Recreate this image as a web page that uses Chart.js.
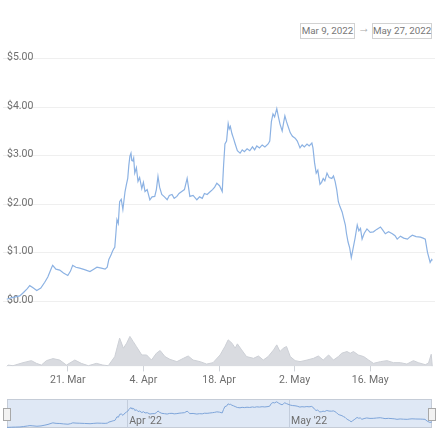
<!DOCTYPE html>
<html>
<head>
<meta charset="utf-8">
<script src="https://cdn.jsdelivr.net/npm/chart.js@4.4.1/dist/chart.umd.min.js"></script>
<style>
  body { margin: 0; background: #fff; font-family: Roboto, sans-serif; }
  #wrap { position: relative; width: 440px; height: 440px; overflow: hidden; }
  canvas { position: absolute; left: 0; }
  .range { position: absolute; top: 23px; height: 14px; line-height: 14px; border: 1px solid #d2d2d2;
           font-size: 9.8px; color: #777; text-align: center; box-sizing: content-box; white-space: nowrap; }
  .arrow { position: absolute; top: 21px; left: 358px; font-size: 12px; color: #aaa; }
</style>
</head>
<body>
<div id="wrap">
  <div class="range" style="left:300px;width:53px;">Mar 9, 2022</div>
  <div class="arrow">→</div>
  <div class="range" style="left:372px;width:58px;">May 27, 2022</div>
  <canvas id="main" width="440" height="390" style="top:0"></canvas>
  <canvas id="nav" width="440" height="50" style="top:390px"></canvas>
</div>
<script>
// days since Mar 9, 2022
const priceDays = [0.7, 1.5, 2.3, 3.1, 3.8, 4.5, 4.95, 5.5, 6.25, 7.0, 7.73, 8.3, 9.03, 9.2, 9.8, 10.5, 11.2, 12.0, 12.5, 12.9,
  13.5, 14.2, 15.1, 16.1, 16.8, 17.4, 18.2, 18.9, 19.3, 19.6, 20.0, 20.2, 20.5, 20.7, 20.9, 21.1, 21.35, 21.6, 21.9, 22.2,
  22.6, 22.85, 23.1, 23.3, 23.5, 23.7, 23.85, 24.05, 24.2, 24.4, 24.7, 25.0, 25.3, 25.7, 26.0, 26.3, 26.7, 27.2, 27.6, 28.1,
  28.4, 28.7, 29.0, 29.4, 29.9, 30.4, 30.8, 31.3, 31.7, 32.2, 32.6, 33.1, 33.6, 34.1, 34.35, 34.6, 35.2, 35.9, 36.4, 36.9,
  37.3, 37.8, 38.3, 38.8, 39.2, 39.6, 40.1, 40.6, 40.85, 41.1, 41.4, 41.7, 41.9, 42.1, 42.4, 42.7, 43.0, 43.4, 43.9, 44.3,
  44.7, 45.2, 45.7, 46.2, 46.6, 47.0, 47.5, 48.0, 48.5, 49.1, 49.4, 49.7, 50.0, 50.3, 50.7, 51.0, 51.3, 51.7, 52.0, 52.2,
  52.5, 52.8, 53.2, 53.6, 54.1, 54.5, 55.0, 55.4, 55.8, 56.3, 56.7, 57.2, 57.4, 57.7, 58.0, 58.3, 58.7, 59.0, 59.3, 59.6,
  60.0, 60.4, 60.9, 61.2, 61.5, 61.8, 62.1, 62.4, 62.8, 63.1, 63.4, 63.6, 63.9, 64.2, 64.5, 64.8, 65.2, 65.6, 65.9, 66.2,
  66.5, 66.9, 67.4, 68.0, 68.6, 69.2, 69.9, 70.3, 70.8, 71.4, 72.1, 72.6, 73.0, 73.6, 74.2, 74.9, 75.4, 75.8, 76.5, 77.3,
  77.8, 78.2, 78.6, 79.1, 79.4, 79.5];
const priceValues = [0.04, 0.07, 0.09, 0.11, 0.18, 0.26, 0.32, 0.28, 0.22, 0.27, 0.39, 0.50, 0.70, 0.74, 0.66, 0.64, 0.58, 0.53, 0.62, 0.74,
  0.70, 0.68, 0.65, 0.61, 0.66, 0.70, 0.68, 0.66, 0.70, 0.86, 0.95, 1.01, 1.08, 1.11, 1.39, 1.68, 1.60, 2.05, 2.10, 1.89,
  2.26, 2.40, 2.53, 2.80, 2.99, 3.05, 2.90, 2.89, 2.95, 2.64, 2.75, 2.47, 2.55, 2.32, 2.45, 2.26, 2.30, 2.09, 2.15, 2.16,
  2.30, 2.57, 2.35, 2.20, 2.15, 2.09, 2.18, 2.20, 2.12, 2.16, 2.22, 2.26, 2.30, 2.53, 2.35, 2.16, 2.18, 2.09, 2.15, 2.12,
  2.22, 2.20, 2.25, 2.30, 2.35, 2.43, 2.38, 2.26, 2.80, 3.24, 3.30, 3.66, 3.55, 3.60, 3.45, 3.35, 3.24, 3.10, 3.05, 3.12,
  3.08, 3.14, 3.10, 3.18, 3.12, 3.20, 3.16, 3.22, 3.18, 3.24, 3.30, 3.70, 3.86, 3.80, 3.97, 3.80, 3.65, 3.51, 3.70, 3.82,
  3.70, 3.60, 3.47, 3.40, 3.36, 3.30, 3.16, 3.22, 3.18, 3.24, 3.20, 3.26, 3.16, 2.85, 2.64, 2.70, 2.41, 2.45, 2.53, 2.48,
  2.64, 2.55, 2.53, 2.58, 2.47, 2.30, 2.05, 1.95, 1.84, 1.70, 1.57, 1.40, 1.22, 1.10, 0.90, 1.07, 1.30, 1.57, 1.45, 1.50,
  1.28, 1.40, 1.49, 1.42, 1.43, 1.48, 1.53, 1.47, 1.39, 1.43, 1.39, 1.35, 1.28, 1.34, 1.30, 1.28, 1.33, 1.36, 1.33, 1.32,
  1.30, 1.28, 1.01, 0.80, 0.86, 0.84];

// volume, $M
const volumeDays = [0.7, 0.93, 1.86, 3.71, 5.26, 6.19, 7.11, 8.04, 9.27, 10.5, 11.75, 13.3, 14.5, 15.8, 17.3, 18.5, 19.5, 20.7, 21.6, 22.3,
  22.9, 23.5, 24.1, 24.7, 25.7, 26.6, 27.5, 28.4, 29.1, 30.0, 30.9, 32.2, 33.4, 34.3, 35.2, 36.5, 37.7, 38.9, 40.2, 41.1,
  41.7, 42.4, 43.0, 43.4, 44.2, 45.1, 46.4, 47.3, 48.2, 49.1, 50.1, 50.7, 51.3, 51.9, 52.5, 53.2, 54.1, 55.0, 56.3, 57.5,
  58.4, 59.3, 60.3, 61.2, 62.1, 62.7, 63.7, 64.3, 64.9, 65.8, 66.8, 67.7, 68.6, 69.9, 71.1, 72.3, 73.6, 74.8, 76.0, 76.9,
  78.2, 78.8, 79.3, 79.5];
const volumeValues = [0, 1.3, 0.7, 3.7, 5.7, 3, 1.3, 5.7, 7.7, 6.3, 1.3, 6.3, 3, 0.7, 3, 1.3, 0.7, 9.7, 28, 18,
  23, 29.7, 24.7, 19.7, 11.3, 11.3, 6.3, 13, 15.7, 9.7, 7, 4.7, 8, 10.3, 6.3, 4.7, 2.3, 3.7, 11.3, 19.7,
  26.3, 23, 18, 22.3, 16.3, 9.7, 8, 10.3, 6.3, 9.7, 16.3, 21.3, 14.7, 18, 19.7, 9.7, 5.7, 4.7, 6.3, 8,
  10.3, 6.3, 11.3, 6.3, 9.7, 13, 14.7, 13, 14.7, 11.3, 9.7, 6.3, 3, 4.7, 5.7, 3.7, 3.7, 2.3, 5.7, 3.7,
  1.7, 3.3, 12, 0];

const priceTicks = [0, 1, 2, 3, 4, 5];
const xTickDays = [12, 26, 40, 54, 68];
const xTickLabels = ["21. Mar", "4. Apr", "18. Apr", "2. May", "16. May"];
const navTickDays = [23, 53];
const navTickLabels = ["Apr '22", "May '22"];

const font = { family: "Roboto", size: 10.5 };
const labelColor = "#6e6e6e";
const toPoints = (xs, ys) => xs.map((x, i) => ({ x: x, y: ys[i] }));

new Chart(document.getElementById("main"), {
  type: "line",
  data: {
    datasets: [
      {
        label: "Volume",
        data: toPoints(volumeDays, volumeValues),
        yAxisID: "vol",
        borderColor: "#cdd0d6",
        borderWidth: 1,
        backgroundColor: "#d9dbe0",
        fill: "origin",
        pointRadius: 0,
        tension: 0,
      },
      {
        label: "Price",
        data: toPoints(priceDays, priceValues),
        yAxisID: "y",
        borderColor: "#8cb2e3",
        borderWidth: 1.2,
        pointRadius: 0,
        tension: 0,
        fill: false,
      },
    ],
  },
  options: {
    responsive: false,
    animation: false,
    devicePixelRatio: 1,
    layout: { padding: { top: 50, left: 3, right: 5, bottom: 0 } },
    plugins: { legend: { display: false }, tooltip: { enabled: false } },
    scales: {
      x: {
        type: "linear",
        min: 0,
        max: 80,
        afterBuildTicks: (s) => { s.ticks = xTickDays.map((v) => ({ value: v })); },
        ticks: {
          font: font, color: labelColor, padding: 3, maxRotation: 0, autoSkip: false,
          callback: (v, i) => xTickLabels[i],
        },
        grid: { drawOnChartArea: false, drawTicks: true, tickLength: 5, color: "#cfd3d9" },
        border: { display: false },
      },
      y: {
        min: -1.344,
        max: 5.177,
        afterBuildTicks: (s) => { s.ticks = priceTicks.map((v) => ({ value: v })); },
        afterFit: (s) => { s.width = 0; },
        ticks: {
          mirror: true, padding: 4, font: font, color: labelColor, labelOffset: -1,
          callback: (v) => "$" + Number(v).toFixed(2),
        },
        grid: { color: "#efefef", drawTicks: false },
        border: { display: false },
      },
      vol: { display: false, min: 0, max: 313 },
    },
  },
});

const navBox = {
  id: "navBox",
  beforeDraw(chart) {
    const a = chart.chartArea;
    const c = chart.ctx;
    c.save();
    c.fillStyle = "#dfe8f5";
    c.fillRect(a.left, a.top, a.right - a.left, a.bottom - a.top);
    c.strokeStyle = "#c5ccd7";
    c.lineWidth = 1;
    c.strokeRect(a.left + 0.5, a.top + 0.5, a.right - a.left - 1, a.bottom - a.top - 1);
    c.restore();
  },
  afterDraw(chart) {
    const a = chart.chartArea;
    const c = chart.ctx;
    c.save();
    c.fillStyle = "#f2f2f2";
    c.strokeStyle = "#a8a8a8";
    c.lineWidth = 1;
    [a.left, a.right].forEach((x) => {
      c.fillRect(x - 3.5, 18.5, 7, 12);
      c.strokeRect(x - 3.5, 18.5, 7, 12);
    });
    c.restore();
  },
};

new Chart(document.getElementById("nav"), {
  type: "line",
  data: {
    datasets: [{
      data: toPoints(priceDays, priceValues),
      borderColor: "#7ea5da",
      borderWidth: 1,
      pointRadius: 0,
      tension: 0,
      fill: false,
    }],
  },
  options: {
    responsive: false,
    animation: false,
    devicePixelRatio: 1,
    layout: { padding: { top: 9, left: 7, right: 8, bottom: 12 } },
    plugins: { legend: { display: false }, tooltip: { enabled: false } },
    scales: {
      x: {
        type: "linear",
        min: 0.7,
        max: 79.5,
        afterBuildTicks: (s) => { s.ticks = navTickDays.map((v) => ({ value: v })); },
        ticks: {
          mirror: true, align: "start", labelOffset: 2, padding: 0,
          font: font, color: labelColor, maxRotation: 0, autoSkip: false,
          callback: (v, i) => navTickLabels[i],
        },
        grid: { drawTicks: false, color: "#c3cddc" },
        border: { display: false },
      },
      y: { display: false, min: -0.05, max: 4.4 },
    },
  },
  plugins: [navBox],
});
</script>
</body>
</html>
